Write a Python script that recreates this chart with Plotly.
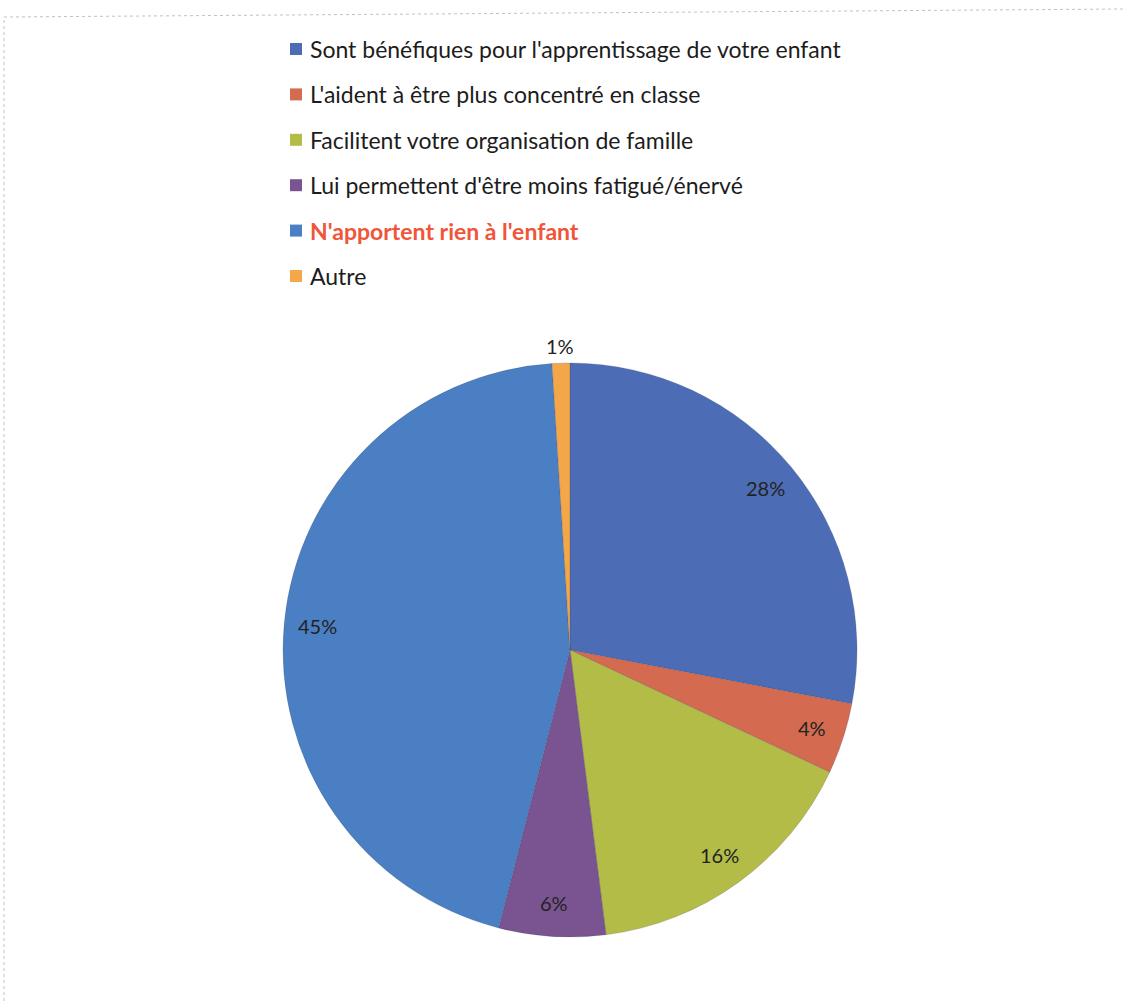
import math
import plotly.graph_objects as go

# ---- data ----
categories = [
    "Sont bénéfiques pour l'apprentissage de votre enfant",
    "L'aident à être plus concentré en classe",
    "Facilitent votre organisation de famille",
    "Lui permettent d'être moins fatigué/énervé",
    "N'apportent rien à l'enfant",
    "Autre",
]
values = [28, 4, 16, 6, 45, 1]
colors = ["#4C6DB5", "#D46B50", "#B4BC48", "#7A5490", "#4A80C3", "#F4A748"]
legend_text_colors = ["#1c1c1c", "#1c1c1c", "#1c1c1c", "#1c1c1c", "#F0553A", "#1c1c1c"]
legend_bold = [False, False, False, False, True, False]

W, H = 1125, 1001
CX, CY, R = 570, 650, 287  # pie centre and radius in pixels

fig = go.Figure()
fig.add_trace(go.Pie(
    labels=categories,
    values=values,
    sort=False,
    direction="clockwise",
    rotation=0,
    marker=dict(colors=colors, line=dict(width=0.6, color="rgba(60,60,90,0.35)")),
    textinfo="none",
    hoverinfo="label+percent",
    showlegend=False,
    domain=dict(x=[(CX - R) / W, (CX + R) / W], y=[1 - (CY + R) / H, 1 - (CY - R) / H]),
))

annotations = []
shapes = []

# percentage labels computed from the values
total = sum(values)
cum = 0
for v in values:
    mid = (cum + v / 2) / total * 2 * math.pi
    cum += v
    frac = 1.06 if v / total < 0.02 else 0.885
    px = CX + frac * R * math.sin(mid)
    py = CY - frac * R * math.cos(mid)
    annotations.append(dict(
        x=px / W, y=1 - py / H, xref="paper", yref="paper",
        text=f"{round(v / total * 100)}%", showarrow=False,
        font=dict(family="Lato, Open Sans, sans-serif", size=20, color="#222222"),
        xanchor="center", yanchor="middle",
    ))

# legend built from the category list
LX, LY0, LDY, SQ = 290, 49, 45.4, 12
for i, (cat, col) in enumerate(zip(categories, colors)):
    yc = LY0 + i * LDY
    shapes.append(dict(
        type="rect", xref="paper", yref="paper",
        x0=LX / W, x1=(LX + SQ) / W, y0=1 - (yc + SQ / 2) / H, y1=1 - (yc - SQ / 2) / H,
        fillcolor=col, line=dict(width=0),
    ))
    txt = f"<b>{cat}</b>" if legend_bold[i] else cat
    annotations.append(dict(
        x=(LX + SQ + 6) / W, y=1 - yc / H, xref="paper", yref="paper",
        text=txt, showarrow=False, xanchor="left", yanchor="middle",
        font=dict(family="Lato, Open Sans, sans-serif", size=23, color=legend_text_colors[i]),
    ))

# scanned page frame (left and top edges)
frame_style = dict(width=1, color="#c0c0cc", dash="dot")
shapes.append(dict(type="line", xref="paper", yref="paper",
                   x0=4 / W, x1=4 / W, y0=0, y1=1 - 17 / H, line=frame_style))
shapes.append(dict(type="line", xref="paper", yref="paper",
                   x0=4 / W, x1=1, y0=1 - 17 / H, y1=1 - 9 / H, line=frame_style))

fig.update_layout(
    width=W, height=H,
    margin=dict(l=0, r=0, t=0, b=0),
    paper_bgcolor="white", plot_bgcolor="white",
    annotations=annotations, shapes=shapes,
)

fig.write_html("out.html", config={"displayModeBar": False},
               post_script="document.body.style.margin='0';")
